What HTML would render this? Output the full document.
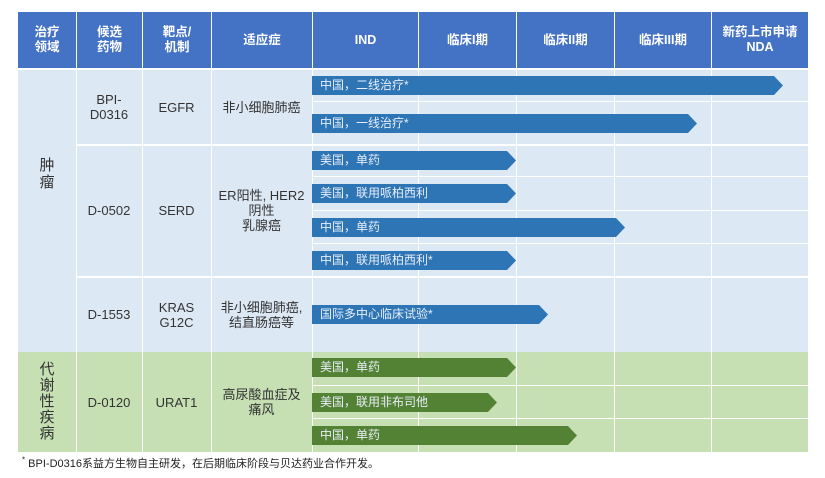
<!DOCTYPE html>
<html><head><meta charset="utf-8"><style>
body{margin:0;background:#fff;width:825px;height:478px;position:relative;overflow:hidden;font-family:"Liberation Sans","Noto Sans CJK SC",sans-serif}
.a{position:absolute;box-sizing:border-box}
.h{background:#4472c4;color:#fff;font-weight:bold;font-size:12.5px;display:flex;align-items:center;justify-content:center;text-align:center;line-height:15px}
.c{display:flex;align-items:center;justify-content:center;text-align:center;font-size:13px;color:#333;line-height:15px}
.bar{position:absolute;height:19px;color:#e8eef8;font-size:12px;line-height:19px;padding-left:8px;box-sizing:border-box;white-space:nowrap}
.vl{position:absolute;width:1px;background:#fff}
.hl{position:absolute;height:1px;background:#fff}
</style></head><body>
<div class="a" style="left:18px;top:70px;width:790px;height:207px;background:#dde8f5"></div>
<div class="a" style="left:18px;top:277px;width:790px;height:75px;background:#dde8f5"></div>
<div class="a" style="left:18px;top:352px;width:790px;height:100px;background:#c6e0b4"></div>
<div class="a h" style="left:18px;top:12px;width:58px;height:56px">治疗<br>领域</div>
<div class="a h" style="left:77px;top:12px;width:65px;height:56px">候选<br>药物</div>
<div class="a h" style="left:143px;top:12px;width:68px;height:56px">靶点/<br>机制</div>
<div class="a h" style="left:212px;top:12px;width:100px;height:56px">适应症</div>
<div class="a h" style="left:313px;top:12px;width:105px;height:56px">IND</div>
<div class="a h" style="left:419px;top:12px;width:97px;height:56px">临床I期</div>
<div class="a h" style="left:517px;top:12px;width:97px;height:56px">临床II期</div>
<div class="a h" style="left:615px;top:12px;width:96px;height:56px">临床III期</div>
<div class="a h" style="left:712px;top:12px;width:96px;height:56px">新药上市申请<br>NDA</div>
<div class="vl" style="left:76px;top:70px;height:382px"></div>
<div class="vl" style="left:142px;top:70px;height:382px"></div>
<div class="vl" style="left:211px;top:70px;height:382px"></div>
<div class="vl" style="left:312px;top:70px;height:382px"></div>
<div class="vl" style="left:418px;top:70px;height:382px"></div>
<div class="vl" style="left:516px;top:70px;height:382px"></div>
<div class="vl" style="left:614px;top:70px;height:382px"></div>
<div class="vl" style="left:711px;top:70px;height:382px"></div>
<div class="hl" style="left:76px;top:144px;width:732px;height:2px"></div>
<div class="hl" style="left:76px;top:276px;width:732px;height:2px"></div>
<div class="hl" style="left:312px;top:101px;width:496px"></div>
<div class="hl" style="left:312px;top:176px;width:496px"></div>
<div class="hl" style="left:312px;top:210px;width:496px"></div>
<div class="hl" style="left:312px;top:243px;width:496px"></div>
<div class="hl" style="left:312px;top:385px;width:496px"></div>
<div class="hl" style="left:312px;top:418px;width:496px"></div>
<div class="a c" style="left:18px;top:70px;width:58px;height:207px;font-size:15px;line-height:17px">肿<br>瘤</div>
<div class="a c" style="left:18px;top:352px;width:58px;height:100px;font-size:15px;line-height:16px">代<br>谢<br>性<br>疾<br>病</div>
<div class="a c" style="left:76px;top:70px;width:66px;height:74px">BPI-<br>D0316</div>
<div class="a c" style="left:142px;top:70px;width:69px;height:74px">EGFR</div>
<div class="a c" style="left:211px;top:70px;width:101px;height:74px">非小细胞肺癌</div>
<div class="a c" style="left:76px;top:144px;width:66px;height:133px">D-0502</div>
<div class="a c" style="left:142px;top:144px;width:69px;height:133px">SERD</div>
<div class="a c" style="left:211px;top:144px;width:101px;height:133px">ER阳性, HER2<br>阴性<br>乳腺癌</div>
<div class="a c" style="left:76px;top:277px;width:66px;height:75px">D-1553</div>
<div class="a c" style="left:142px;top:277px;width:69px;height:75px">KRAS<br>G12C</div>
<div class="a c" style="left:211px;top:277px;width:101px;height:75px">非小细胞肺癌,<br>结直肠癌等</div>
<div class="a c" style="left:76px;top:352px;width:66px;height:100px">D-0120</div>
<div class="a c" style="left:142px;top:352px;width:69px;height:100px">URAT1</div>
<div class="a c" style="left:211px;top:352px;width:101px;height:100px">高尿酸血症及<br>痛风</div>
<div class="bar" style="left:312px;top:76px;width:471px;background:#2e75b6;clip-path:polygon(0 0,462px 0,100% 50%,462px 100%,0 100%)">中国，二线治疗*</div>
<div class="bar" style="left:312px;top:114px;width:385px;background:#2e75b6;clip-path:polygon(0 0,376px 0,100% 50%,376px 100%,0 100%)">中国，一线治疗*</div>
<div class="bar" style="left:312px;top:151px;width:204px;background:#2e75b6;clip-path:polygon(0 0,195px 0,100% 50%,195px 100%,0 100%)">美国，单药</div>
<div class="bar" style="left:312px;top:184px;width:204px;background:#2e75b6;clip-path:polygon(0 0,195px 0,100% 50%,195px 100%,0 100%)">美国，联用哌柏西利</div>
<div class="bar" style="left:312px;top:218px;width:313px;background:#2e75b6;clip-path:polygon(0 0,304px 0,100% 50%,304px 100%,0 100%)">中国，单药</div>
<div class="bar" style="left:312px;top:251px;width:204px;background:#2e75b6;clip-path:polygon(0 0,195px 0,100% 50%,195px 100%,0 100%)">中国，联用哌柏西利*</div>
<div class="bar" style="left:312px;top:305px;width:236px;background:#2e75b6;clip-path:polygon(0 0,227px 0,100% 50%,227px 100%,0 100%)">国际多中心临床试验*</div>
<div class="bar" style="left:312px;top:358px;width:204px;background:#548235;clip-path:polygon(0 0,195px 0,100% 50%,195px 100%,0 100%)">美国，单药</div>
<div class="bar" style="left:312px;top:393px;width:185px;background:#548235;clip-path:polygon(0 0,176px 0,100% 50%,176px 100%,0 100%)">美国，联用非布司他</div>
<div class="bar" style="left:312px;top:426px;width:265px;background:#548235;clip-path:polygon(0 0,256px 0,100% 50%,256px 100%,0 100%)">中国，单药</div>
<div class="a" style="left:22px;top:455px;font-size:11px;color:#222;white-space:nowrap"><sup style="font-size:8px">*</sup> BPI-D0316系益方生物自主研发，在后期临床阶段与贝达药业合作开发。</div>
</body></html>
